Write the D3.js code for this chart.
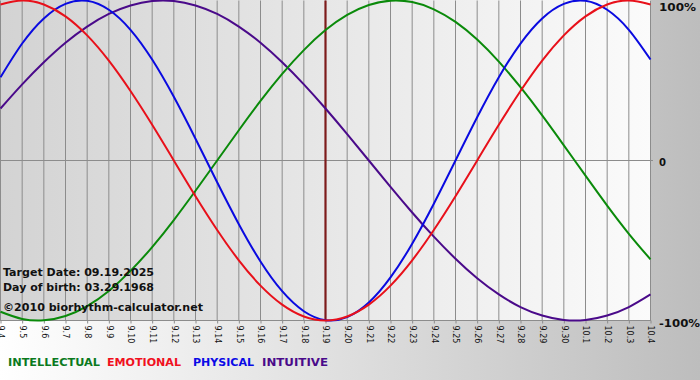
<!DOCTYPE html>
<html>
<head>
<meta charset="utf-8">
<script src="https://cdn.jsdelivr.net/npm/d3@7"></script>
<style>
html,body{margin:0;padding:0;background:#fff;}
svg{display:block;}
</style>
</head>
<body>
<svg id="chart" width="700" height="380"></svg>
<script>
const dates = ["9.4","9.5","9.6","9.7","9.8","9.9","9.10","9.11","9.12","9.13","9.14","9.15","9.16","9.17","9.18","9.19","9.20","9.21","9.22","9.23","9.24","9.25","9.26","9.27","9.28","9.29","9.30","10.1","10.2","10.3","10.4"];
const intellectual = [-94.5,-99.0,-99.9,-97.2,-91.0,-81.5,-69.0,-54.1,-37.2,-18.9,0,18.9,37.2,54.1,69.0,81.5,91.0,97.2,99.9,99.0,94.5,86.6,75.6,61.8,45.8,28.2,9.5,-9.5,-28.2,-45.8,-61.8];
const emotional = [97.5,100,97.5,90.1,78.2,62.4,43.4,22.3,0,-22.3,-43.4,-62.4,-78.2,-90.1,-97.5,-100,-97.5,-90.1,-78.2,-62.4,-43.4,-22.3,0,22.3,43.4,62.4,78.2,90.1,97.5,100,97.5];
const physical = [52.0,73.1,88.8,97.9,99.8,94.2,81.7,63.1,39.8,13.6,-13.6,-39.8,-63.1,-81.7,-94.2,-99.8,-97.9,-88.8,-73.1,-52.0,-27.0,0,27.0,52.0,73.1,88.8,97.9,99.8,94.2,81.7,63.1];
const intuitive = [32.5,47.6,61.4,73.6,83.7,91.6,96.9,99.7,99.7,96.9,91.6,83.7,73.6,61.4,47.6,32.5,16.5,0,-16.5,-32.5,-47.6,-61.4,-73.6,-83.7,-91.6,-96.9,-99.7,-99.7,-96.9,-91.6,-83.7];
const seriesNames = ["INTELLECTUAL","EMOTIONAL","PHYSICAL","INTUITIVE"];
const yTickValues = [100, 0, -100];
const yTickLabels = ["100%", "0", "-100%"];
const targetDate = "9.19";
const infoLines = ["Target Date: 09.19.2025", "Day of birth: 03.29.1968", "\u00a92010 biorhythm-calculator.net"];

const colors = {INTELLECTUAL:"#0a8a0a", EMOTIONAL:"#e8101a", PHYSICAL:"#0a0ae0", INTUITIVE:"#4a0a8a"};
const legendColors = {INTELLECTUAL:"#0b7a1e", EMOTIONAL:"#f0101e", PHYSICAL:"#0a0ae6", INTUITIVE:"#4a0a8a"};
const seriesData = {INTELLECTUAL:intellectual, EMOTIONAL:emotional, PHYSICAL:physical, INTUITIVE:intuitive};

const svg = d3.select("#chart");
const defs = svg.append("defs");
const g1 = defs.append("linearGradient").attr("id","outerGrad").attr("x1","0").attr("x2","1").attr("y1","0").attr("y2","0");
g1.append("stop").attr("offset","0").attr("stop-color","#ffffff");
g1.append("stop").attr("offset","1").attr("stop-color","#bdbdbd");
const g2 = defs.append("linearGradient").attr("id","plotGrad").attr("x1","0").attr("x2","1").attr("y1","0").attr("y2","0");
g2.append("stop").attr("offset","0").attr("stop-color","#d3d3d3");
g2.append("stop").attr("offset","1").attr("stop-color","#fbfbfb");

const x = d3.scalePoint().domain(dates).range([0.5, 650.5]);
const y = d3.scaleLinear().domain([-100, 100]).range([320.5, 0.5]);

svg.append("rect").attr("x",0).attr("y",0).attr("width",700).attr("height",380).attr("fill","url(#outerGrad)");
svg.append("rect").attr("x",0).attr("y",0).attr("width",651).attr("height",321).attr("fill","url(#plotGrad)");

// vertical grid
svg.append("g").selectAll("line").data(dates).join("line")
  .attr("x1", d => x(d)).attr("x2", d => x(d))
  .attr("y1", y(100)).attr("y2", y(-100))
  .attr("stroke", "#8c8c8c").attr("stroke-width", 1);

// horizontal zero + bottom line
svg.append("line").attr("x1",0).attr("x2",653).attr("y1",y(0)).attr("y2",y(0)).attr("stroke","#8c8c8c");
svg.append("line").attr("x1",0).attr("x2",651).attr("y1",y(-100)).attr("y2",y(-100)).attr("stroke","#8c8c8c");

// bottom axis
const xAxis = d3.axisBottom(x).tickSize(3).tickSizeOuter(0);
const ax = svg.append("g").attr("transform", `translate(0,${y(-100)})`).call(xAxis);
ax.select(".domain").remove();
ax.selectAll(".tick line").attr("stroke","#8c8c8c");
ax.selectAll(".tick text")
  .attr("font-family","Tahoma, 'DejaVu Sans', sans-serif")
  .attr("font-size","8px").attr("fill","#111")
  .attr("text-anchor","start")
  .attr("transform","rotate(90)")
  .attr("x", 5).attr("y", 0).attr("dy","0.32em");

// target line
svg.append("line").attr("x1",x(targetDate)).attr("x2",x(targetDate)).attr("y1",y(100)).attr("y2",y(-100))
  .attr("stroke","#7d1b1b").attr("stroke-width",2.2);

// curves
const line = d3.line().x((d,i) => x(dates[i])).y(d => y(d)).curve(d3.curveNatural);
const drawOrder = ["INTUITIVE","INTELLECTUAL","PHYSICAL","EMOTIONAL"];
svg.append("g").selectAll("path").data(drawOrder).join("path")
  .attr("d", n => line(seriesData[n]))
  .attr("fill","none").attr("stroke", n => colors[n]).attr("stroke-width", 2);

// right labels
const labelY = [11, 165.5, 326.5];
const labelW = [37, 7, 41];
svg.append("g").selectAll("text").data(yTickValues).join("text")
  .attr("x", 659).attr("y", (d,i) => labelY[i])
  .text((d,i) => yTickLabels[i])
  .attr("textLength", (d,i) => labelW[i]).attr("lengthAdjust","spacingAndGlyphs")
  .attr("font-family","Verdana, 'DejaVu Sans', sans-serif").attr("font-weight","bold")
  .attr("font-size","11px").attr("fill","#111");

// info text
const infoY = [276, 291, 310.5];
const infoW = [151, 151, 200];
svg.append("g").selectAll("text").data(infoLines).join("text")
  .attr("x", 3).attr("y", (d,i) => infoY[i]).text(d => d)
  .attr("textLength", (d,i) => infoW[i]).attr("lengthAdjust","spacingAndGlyphs")
  .attr("font-family","Verdana, 'DejaVu Sans', sans-serif").attr("font-weight","bold")
  .attr("font-size","11px").attr("fill","#111");

// legend
const legendX = [8, 107, 193, 262];
const legendW = [92, 74, 61, 66];
svg.append("g").selectAll("text").data(seriesNames).join("text")
  .attr("x", (d,i) => legendX[i]).attr("y", 366).text(d => d)
  .attr("textLength", (d,i) => legendW[i]).attr("lengthAdjust","spacingAndGlyphs")
  .attr("font-family","Tahoma, 'DejaVu Sans', sans-serif").attr("font-weight","bold")
  .attr("font-size","11px").attr("fill", d => legendColors[d]);
</script>
</body>
</html>
